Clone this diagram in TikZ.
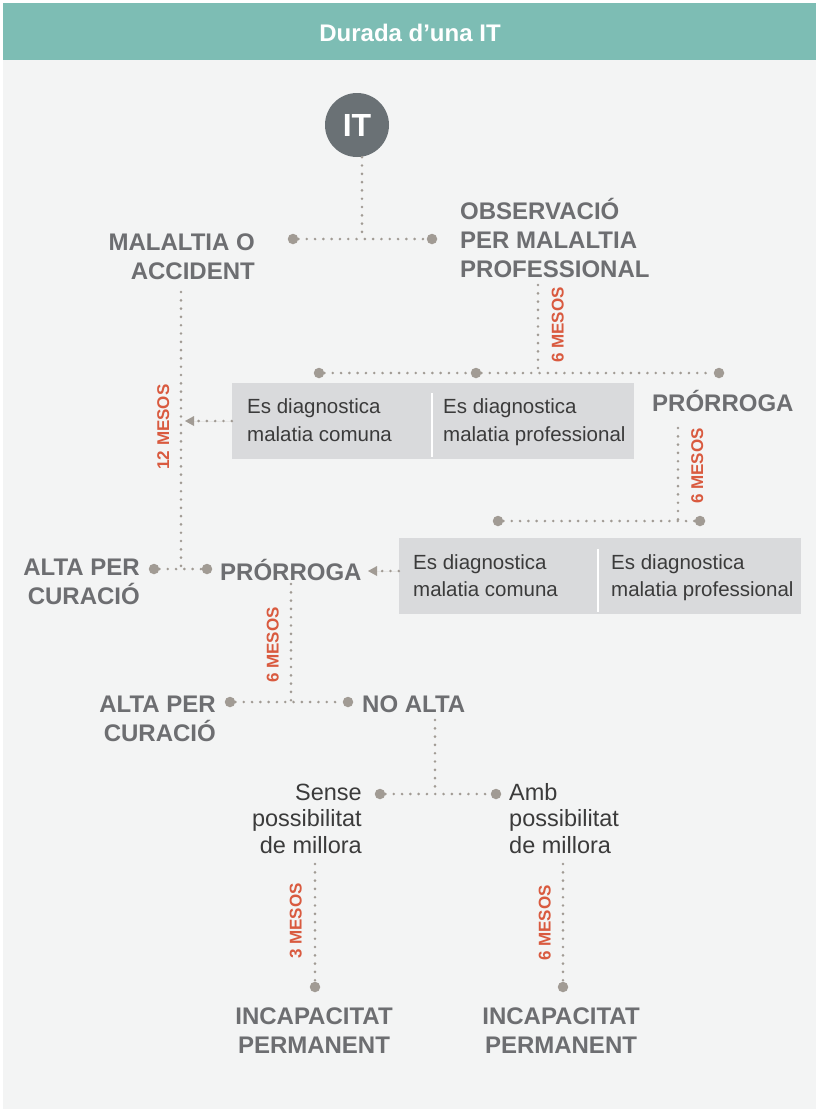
\documentclass[tikz,border=0pt]{standalone}
\usepackage{fontspec}
\setmainfont{Liberation Sans}
\usetikzlibrary{arrows.meta}
\definecolor{hdrcol}{HTML}{7DBDB4}
\definecolor{panelcol}{HTML}{F3F4F4}
\definecolor{itcol}{HTML}{6A7175}
\definecolor{dotcol}{HTML}{A19B94}
\definecolor{lblcol}{HTML}{6D6E71}
\definecolor{redcol}{HTML}{D95A3F}
\definecolor{boxcol}{HTML}{D9DADC}
\definecolor{txtcol}{HTML}{3B3B3B}
\begin{document}
\begin{tikzpicture}[x=1pt,y=-1pt,
  lbl/.style={font=\fontsize{24}{29}\selectfont\bfseries, text=lblcol, inner sep=0pt},
  plain/.style={font=\fontsize{23.5}{26.5}\selectfont, text=txtcol, inner sep=0pt},
  boxtxt/.style={font=\fontsize{20.5}{27.8}\selectfont, text=txtcol, inner sep=0pt, align=left, anchor=base west},
  months/.style={font=\fontsize{17}{17}\selectfont\bfseries, text=redcol, inner sep=0pt, rotate=90, text height=12.2pt, text depth=0pt},
  dl/.style={draw=dotcol, line width=2.9pt, line cap=round, dash pattern=on 0pt off 8.3pt},
  dotnode/.style={circle, fill=dotcol, minimum size=10.5pt, inner sep=0pt},
  boxnode/.style={fill=boxcol, inner sep=0pt, minimum height=76pt},
  arr/.style={-{Triangle[length=9pt,width=10pt,line width=0pt]}}
]
\useasboundingbox (0,0) rectangle (816,1112);
\fill[white] (0,0) rectangle (816,1112);
\fill[panelcol] (3,3) rectangle (816,1109);
\fill[hdrcol] (3,3) rectangle (816,60);
\node[font=\fontsize{24}{24}\selectfont\bfseries, text=white, inner sep=0pt, anchor=base] (title) at (410,41.5) {Durada d’una IT};

% IT circle
\node[circle, fill=itcol, minimum size=64pt, inner sep=0pt, font=\fontsize{32}{32}\selectfont\bfseries, text=white] (it) at (357,125) {IT};

% labels (base anchor = baseline of the last line)
\node[lbl, align=right, anchor=base east] (mal) at (255,279) {MALALTIA O\\ACCIDENT};
\node[lbl, align=left, anchor=base west] (obs) at (460,277) {OBSERVACIÓ\\PER MALALTIA\\PROFESSIONAL};
\node[lbl, anchor=base west] (pr1) at (652,411) {PRÓRROGA};
\node[lbl, anchor=base west] (pr2) at (220,580) {PRÓRROGA};
\node[lbl, align=right, anchor=base east] (alta1) at (140,604.5) {ALTA PER\\CURACIÓ};
\node[lbl, align=right, anchor=base east] (alta2) at (216,741) {ALTA PER\\CURACIÓ};
\node[lbl, anchor=base west] (noalta) at (362,712) {NO ALTA};
\node[plain, align=right, anchor=base east] (sense) at (362,853) {Sense\\possibilitat\\de millora};
\node[plain, align=left, anchor=base west] (amb) at (509,853) {Amb\\possibilitat\\de millora};
\node[lbl, align=center, anchor=base] (inc1) at (314,1053) {INCAPACITAT\\PERMANENT};
\node[lbl, align=center, anchor=base] (inc2) at (561,1053) {INCAPACITAT\\PERMANENT};

% boxes
\node[boxnode, minimum width=200pt] (box1) at (332,421) {};
\node[boxnode, minimum width=202pt] (box2) at (533,421) {};
\node[boxnode, minimum width=199pt] (box3) at (498.5,576) {};
\node[boxnode, minimum width=203pt] (box4) at (699.5,576) {};
\draw[white, line width=2pt] ([yshift=-10pt]box1.north east) -- ([yshift=2pt]box1.south east);
\draw[white, line width=2pt] ([yshift=-11pt]box3.north east) -- ([yshift=2pt]box3.south east);
\node[boxtxt] (b1t) at (247,441.3) {Es diagnostica\\malatia comuna};
\node[boxtxt] (b2t) at (443,441.3) {Es diagnostica\\malatia professional};
\node[boxtxt] (b3t) at (413,596.8) {Es diagnostica\\malatia comuna};
\node[boxtxt] (b4t) at (611,596.8) {Es diagnostica\\malatia professional};

% month labels
\node[months] (m12) at (163,427) {12 MESOS};
\node[months] (m6a) at (557.5,325) {6 MESOS};
\node[months] (m6b) at (697,466) {6 MESOS};
\node[months] (m6c) at (272.5,645) {6 MESOS};
\node[months] (m3) at (295.5,921) {3 MESOS};
\node[months] (m6d) at (544.5,923) {6 MESOS};

% dots
\node[dotnode] (dA) at (293,239) {};
\node[dotnode] (dB) at (432,239) {};
\node[dotnode] (dC) at (154,569) {};
\node[dotnode] (dD) at (207,569) {};
\node[dotnode] (dE) at (319,373) {};
\node[dotnode] (dF) at (476,373) {};
\node[dotnode] (dG) at (719,373) {};
\node[dotnode] (dH) at (498,521) {};
\node[dotnode] (dI) at (700,521) {};
\node[dotnode] (dJ) at (230,702) {};
\node[dotnode] (dK) at (348,702) {};
\node[dotnode] (dL) at (380,794) {};
\node[dotnode] (dM) at (496,794) {};
\node[dotnode] (dN) at (315,987) {};
\node[dotnode] (dO) at (563,987) {};

% coordinates
\coordinate (j1) at (362,239);
\coordinate (c1) at (181,292);
\coordinate (j2) at (181,569);
\coordinate (c2) at (538,285);
\coordinate (j3) at (538,373);
\coordinate (c3) at (678,428);
\coordinate (j4) at (678,521);
\coordinate (c4) at (291,584);
\coordinate (j5) at (291,702);
\coordinate (c5) at (435,720);
\coordinate (j6) at (435,794);
\coordinate (c6) at (315,864);
\coordinate (c7) at (563,864);
\coordinate (a1) at (185,421);
\coordinate (a2) at (368,571);
\coordinate (s2) at (399,571);

% connectors
\draw[dl] (it.south -| j1) -- (j1);
\draw[dl] (dA) -- (dB);
\draw[dl] (c1) -- (j2);
\draw[dl] (dC) -- (dD);
\draw[dl] (c2) -- (j3);
\draw[dl] (dE) -- (dF);
\draw[dl] (dF) -- (dG);
\draw[dl] (c3) -- (j4);
\draw[dl] (dH) -- (dI);
\draw[dl] (c4) -- (j5);
\draw[dl] (dJ) -- (dK);
\draw[dl] (c5) -- (j6);
\draw[dl] (dL) -- (dM);
\draw[dl] (c6) -- (dN);
\draw[dl] (c7) -- (dO);
\draw[dl, arr, draw=dotcol, fill=dotcol] (box1.west) -- (a1);
\draw[dl, arr, draw=dotcol, fill=dotcol] (box3.west |- s2) -- (a2);
\end{tikzpicture}
\end{document}
